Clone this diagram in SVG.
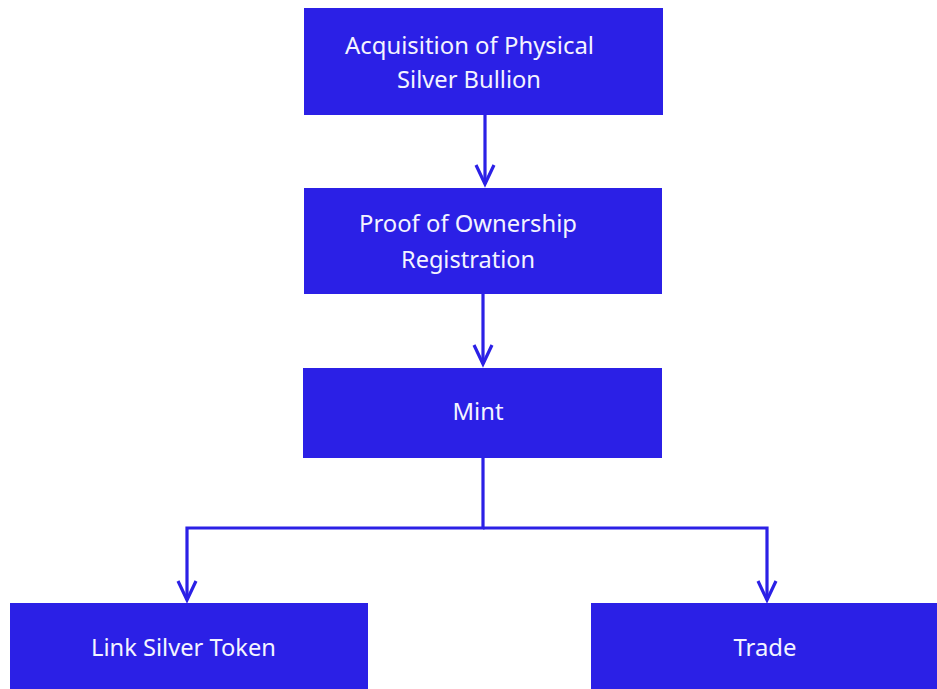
<svg xmlns="http://www.w3.org/2000/svg" width="937" height="689" viewBox="0 0 937 689">
<defs>
<style>
.box{fill:#2b20e6;}
.lbl{fill:#f4f4ff;font-family:"Noto Sans","Open Sans",sans-serif;font-size:23px;text-anchor:middle;}
.con{fill:none;stroke:#2b20e6;stroke-width:3.2;}
.head{fill:none;stroke:#2b20e6;stroke-width:3.2;stroke-linejoin:miter;}
</style>
</defs>
<rect width="937" height="689" fill="#ffffff"/>
<g id="connectors">
<line class="con" x1="485" y1="115" x2="485" y2="184"/>
<polyline class="head" points="476,165 485,184 494,165"/>
<line class="con" x1="483" y1="294" x2="483" y2="364"/>
<polyline class="head" points="474,345 483,364 492,345"/>
<polyline class="con" points="483,458 483,528 187,528 187,600"/>
<polyline class="con" points="483,528 767,528 767,600"/>
<polyline class="head" points="178,581 187,600 196,581"/>
<polyline class="head" points="758,581 767,600 776,581"/>
</g>
<g id="node-acquisition">
<rect class="box" x="304" y="8" width="359" height="107"/>
<text class="lbl" x="469.5" y="54" textLength="249" lengthAdjust="spacingAndGlyphs">Acquisition of Physical</text>
<text class="lbl" x="469" y="88" textLength="144" lengthAdjust="spacingAndGlyphs">Silver Bullion</text>
</g>
<g id="node-proof">
<rect class="box" x="304" y="188" width="358" height="106"/>
<text class="lbl" x="468" y="232" textLength="218" lengthAdjust="spacingAndGlyphs">Proof of Ownership</text>
<text class="lbl" x="468" y="268" textLength="134" lengthAdjust="spacingAndGlyphs">Registration</text>
</g>
<g id="node-mint">
<rect class="box" x="303" y="368" width="359" height="90"/>
<text class="lbl" x="478" y="420" textLength="51" lengthAdjust="spacingAndGlyphs">Mint</text>
</g>
<g id="node-link">
<rect class="box" x="10" y="603" width="358" height="90"/>
<text class="lbl" x="183.5" y="656" textLength="185" lengthAdjust="spacingAndGlyphs">Link Silver Token</text>
</g>
<g id="node-trade">
<rect class="box" x="591" y="603" width="350" height="90"/>
<text class="lbl" x="765" y="656" textLength="63" lengthAdjust="spacingAndGlyphs">Trade</text>
</g>
</svg>
